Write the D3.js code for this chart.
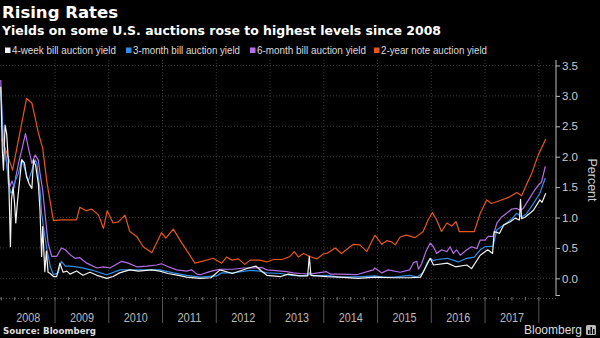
<!DOCTYPE html>
<html><head><meta charset="utf-8">
<script src="https://cdn.jsdelivr.net/npm/d3@7/dist/d3.min.js"></script>
<style>html,body{margin:0;padding:0;background:#000;}svg{display:block;}</style>
</head><body>
<svg id="chart" width="600" height="338"></svg>
<script>
// ---- data (decimal year, percent) ----
const yearLabels = ["2008","2009","2010","2011","2012","2013","2014","2015","2016","2017"];
const yTickValues = [0, 0.5, 1, 1.5, 2, 2.5, 3, 3.5];
const seriesNames = ["4-week bill auction yield","3-month bill auction yield","6-month bill auction yield","2-year note auction yield"];

const week4 = [[2007.99,3.15],[2008.02,2.10],[2008.04,1.78],[2008.07,2.52],[2008.10,2.38],[2008.13,1.95],[2008.17,0.52],[2008.19,1.30],[2008.22,1.50],[2008.25,1.20],[2008.27,0.91],[2008.30,1.25],[2008.34,1.60],[2008.38,1.95],[2008.43,1.90],[2008.47,1.67],[2008.52,1.55],[2008.57,1.48],[2008.60,1.95],[2008.64,1.85],[2008.69,1.55],[2008.72,1.12],[2008.75,0.36],[2008.77,0.85],[2008.81,0.11],[2008.84,0.45],[2008.87,0.10],[2008.91,0.08],[2008.97,0.03],[2009.03,0.03],[2009.09,0.25],[2009.15,0.10],[2009.22,0.12],[2009.28,0.07],[2009.40,0.12],[2009.52,0.05],[2009.65,0.10],[2009.78,0.05],[2009.96,0.00],[2010.08,0.03],[2010.20,0.09],[2010.39,0.14],[2010.55,0.12],[2010.80,0.14],[2010.95,0.12],[2011.10,0.08],[2011.30,0.05],[2011.45,0.02],[2011.70,0.00],[2011.90,0.01],[2012.07,0.14],[2012.30,0.08],[2012.60,0.17],[2012.74,0.20],[2012.84,0.12],[2012.94,0.05],[2013.20,0.03],[2013.34,0.07],[2013.56,0.04],[2013.70,0.04],[2013.73,0.36],[2013.76,0.05],[2014.06,0.03],[2014.30,0.02],[2014.64,0.00],[2014.95,0.02],[2015.30,0.01],[2015.60,0.01],[2015.80,0.02],[2015.90,0.19],[2015.98,0.33],[2016.04,0.22],[2016.30,0.25],[2016.45,0.19],[2016.66,0.22],[2016.75,0.16],[2016.91,0.38],[2017.05,0.47],[2017.14,0.41],[2017.17,0.77],[2017.27,0.74],[2017.35,0.88],[2017.47,0.93],[2017.56,0.99],[2017.64,0.96],[2017.66,1.30],[2017.68,0.98],[2017.75,1.01],[2017.90,1.12],[2018.02,1.29],[2018.06,1.25],[2018.13,1.40]];

const month3 = [[2007.99,3.10],[2008.04,2.27],[2008.10,1.90],[2008.13,1.56],[2008.18,1.40],[2008.22,1.45],[2008.25,1.58],[2008.32,1.73],[2008.38,1.95],[2008.42,1.85],[2008.50,1.60],[2008.53,1.67],[2008.57,1.78],[2008.63,1.95],[2008.66,1.90],[2008.72,1.45],[2008.75,1.07],[2008.80,0.75],[2008.85,0.47],[2008.91,0.20],[2008.97,0.06],[2009.06,0.09],[2009.12,0.28],[2009.19,0.20],[2009.28,0.20],[2009.46,0.18],[2009.71,0.13],[2009.96,0.06],[2010.21,0.14],[2010.46,0.14],[2010.70,0.14],[2010.95,0.14],[2011.20,0.09],[2011.45,0.05],[2011.70,0.02],[2012.00,0.04],[2012.10,0.09],[2012.30,0.09],[2012.63,0.13],[2012.80,0.12],[2012.94,0.09],[2013.20,0.08],[2013.40,0.05],[2013.56,0.04],[2013.70,0.05],[2013.74,0.10],[2013.80,0.04],[2014.06,0.05],[2014.30,0.02],[2014.70,0.03],[2014.95,0.04],[2015.10,0.02],[2015.30,0.02],[2015.60,0.05],[2015.74,0.02],[2015.85,0.10],[2015.92,0.25],[2015.98,0.33],[2016.04,0.29],[2016.10,0.31],[2016.30,0.33],[2016.50,0.27],[2016.66,0.33],[2016.80,0.35],[2016.91,0.47],[2017.00,0.52],[2017.15,0.53],[2017.22,0.80],[2017.40,0.91],[2017.50,0.98],[2017.59,1.07],[2017.68,1.01],[2017.76,1.05],[2017.90,1.23],[2018.02,1.40],[2018.12,1.65]];

const month6 = [[2007.99,3.26],[2008.03,2.30],[2008.07,2.10],[2008.12,1.75],[2008.16,1.51],[2008.20,1.60],[2008.24,1.50],[2008.27,1.67],[2008.32,1.89],[2008.38,2.11],[2008.45,2.38],[2008.50,2.16],[2008.57,1.89],[2008.63,2.03],[2008.69,1.94],[2008.72,1.73],[2008.77,1.45],[2008.81,1.10],[2008.87,0.58],[2008.94,0.36],[2009.03,0.36],[2009.12,0.50],[2009.19,0.47],[2009.28,0.39],[2009.37,0.33],[2009.46,0.34],[2009.59,0.25],[2009.78,0.17],[2009.90,0.19],[2010.02,0.17],[2010.12,0.22],[2010.24,0.28],[2010.36,0.25],[2010.52,0.19],[2010.71,0.20],[2010.89,0.22],[2010.98,0.24],[2011.11,0.19],[2011.26,0.14],[2011.45,0.12],[2011.54,0.14],[2011.64,0.07],[2011.70,0.06],[2011.88,0.11],[2012.01,0.14],[2012.07,0.15],[2012.32,0.15],[2012.50,0.17],[2012.69,0.17],[2012.85,0.18],[2012.94,0.14],[2013.06,0.13],[2013.31,0.11],[2013.43,0.09],[2013.56,0.08],[2013.74,0.07],[2014.05,0.11],[2014.12,0.07],[2014.30,0.07],[2014.61,0.06],[2014.92,0.14],[2014.95,0.17],[2015.08,0.09],[2015.20,0.14],[2015.42,0.10],[2015.60,0.14],[2015.67,0.26],[2015.73,0.28],[2015.76,0.15],[2015.82,0.24],[2015.90,0.44],[2015.98,0.58],[2016.04,0.52],[2016.10,0.41],[2016.19,0.47],[2016.29,0.44],[2016.35,0.52],[2016.41,0.41],[2016.47,0.47],[2016.54,0.38],[2016.66,0.47],[2016.75,0.52],[2016.85,0.49],[2016.91,0.63],[2017.00,0.63],[2017.06,0.69],[2017.15,0.69],[2017.22,0.91],[2017.31,1.01],[2017.40,1.07],[2017.50,1.14],[2017.59,1.15],[2017.65,1.12],[2017.71,1.15],[2017.81,1.29],[2017.90,1.42],[2017.99,1.53],[2018.05,1.58],[2018.12,1.84]];

const year2 = [[2008.01,2.30],[2008.21,1.78],[2008.47,2.96],[2008.57,2.88],[2008.69,2.39],[2008.77,2.14],[2008.85,1.57],[2008.97,0.95],[2009.12,0.96],[2009.40,0.96],[2009.46,1.17],[2009.58,1.11],[2009.68,1.14],[2009.81,1.04],[2009.90,0.82],[2009.97,1.11],[2010.08,0.91],[2010.18,0.93],[2010.30,1.04],[2010.39,0.77],[2010.52,0.69],[2010.64,0.52],[2010.80,0.42],[2010.98,0.75],[2011.06,0.66],[2011.20,0.81],[2011.36,0.58],[2011.48,0.42],[2011.60,0.25],[2011.70,0.27],[2011.94,0.33],[2012.10,0.25],[2012.19,0.35],[2012.29,0.30],[2012.41,0.32],[2012.53,0.23],[2012.63,0.30],[2012.81,0.30],[2012.94,0.27],[2013.06,0.31],[2013.22,0.31],[2013.37,0.36],[2013.45,0.44],[2013.53,0.35],[2013.62,0.41],[2013.74,0.36],[2013.87,0.32],[2013.99,0.40],[2014.08,0.42],[2014.21,0.50],[2014.33,0.41],[2014.46,0.50],[2014.55,0.56],[2014.67,0.55],[2014.80,0.44],[2014.95,0.71],[2015.08,0.56],[2015.17,0.62],[2015.26,0.60],[2015.33,0.55],[2015.42,0.68],[2015.54,0.71],[2015.70,0.67],[2015.85,0.77],[2015.94,0.96],[2016.02,1.08],[2016.10,0.96],[2016.19,0.77],[2016.29,0.91],[2016.38,0.86],[2016.46,0.93],[2016.52,0.77],[2016.66,0.77],[2016.80,0.77],[2016.91,1.07],[2017.03,1.29],[2017.12,1.23],[2017.28,1.28],[2017.46,1.34],[2017.59,1.41],[2017.68,1.36],[2017.74,1.48],[2017.87,1.73],[2017.99,2.03],[2018.13,2.29]];

// ---- drawing ----
const svg = d3.select("#chart");
const FONT = "'Liberation Sans', Arial, sans-serif";
const BOLD = "'DejaVu Sans', sans-serif";
const colors = ["#f2f2f2", "#2f8fe8", "#b56ee8", "#e8561c"];

const x = d3.scaleLinear().domain([2007.976, 2018.32]).range([0, 556]);
const y = d3.scaleLinear().domain([-0.29, 3.59]).range([296, 60]);

// title / subtitle
svg.append("text").attr("x", 2).attr("y", 17.5).attr("fill", "#fff")
  .attr("font-family", BOLD).attr("font-weight", "bold").attr("font-size", 16)
  .attr("textLength", 116).attr("lengthAdjust", "spacingAndGlyphs").text("Rising Rates");
svg.append("text").attr("x", 2).attr("y", 34.5).attr("fill", "#fff")
  .attr("font-family", BOLD).attr("font-weight", "bold").attr("font-size", 12.5)
  .attr("textLength", 439).attr("lengthAdjust", "spacingAndGlyphs")
  .text("Yields on some U.S. auctions rose to highest levels since 2008");

// legend
const legendX = [5, 126, 250, 374];
const legendW = [104, 107, 109, 106];
seriesNames.forEach((n, i) => {
  svg.append("rect").attr("x", legendX[i]).attr("y", 47.5).attr("width", 5.5).attr("height", 5.5).attr("fill", colors[i]);
  svg.append("text").attr("x", legendX[i] + 7).attr("y", 54).attr("fill", "#ddd")
    .attr("font-family", FONT).attr("font-size", 10.5)
    .attr("textLength", legendW[i]).attr("lengthAdjust", "spacingAndGlyphs").text(n);
});

// gridlines
const grid = svg.append("g");
yTickValues.forEach(v => {
  grid.append("line").attr("x1", 0).attr("x2", 556).attr("y1", y(v)).attr("y2", y(v))
    .attr("stroke", "#3a3a3a").attr("stroke-width", 1).attr("stroke-dasharray", "1,2");
});
const yearBounds = d3.range(2009, 2019);
yearBounds.forEach(yr => {
  grid.append("line").attr("x1", x(yr)).attr("x2", x(yr)).attr("y1", 60).attr("y2", 298)
    .attr("stroke", "#3a3a3a").attr("stroke-width", 1).attr("stroke-dasharray", "1,2");
});
grid.append("line").attr("x1", 0).attr("x2", 556).attr("y1", 298.5).attr("y2", 298.5)
  .attr("stroke", "#444").attr("stroke-width", 1).attr("stroke-dasharray", "1,2");

// x axis: quarterly minor ticks, year separators, labels
const quarters = d3.range(2008, 2018.01, 0.25);
quarters.forEach(q => {
  if (x(q) < 556) svg.append("line").attr("x1", x(q)).attr("x2", x(q)).attr("y1", 297).attr("y2", 300.5)
    .attr("stroke", "#777").attr("stroke-width", 1);
});
yearBounds.forEach(yr => {
  svg.append("line").attr("x1", x(yr)).attr("x2", x(yr)).attr("y1", 298).attr("y2", 323)
    .attr("stroke", "#555").attr("stroke-width", 1);
});
yearLabels.forEach(lbl => {
  const yr = +lbl;
  svg.append("text").attr("x", x(yr + 0.5)).attr("y", 322).attr("text-anchor", "middle")
    .attr("fill", "#bbb").attr("font-family", FONT).attr("font-size", 12)
    .attr("textLength", 24).attr("lengthAdjust", "spacingAndGlyphs").text(lbl);
});

// right y axis
const yAxis = d3.axisRight(y).tickValues(yTickValues).tickFormat(d3.format(".1f")).tickSize(4).tickPadding(2);
const ya = svg.append("g").attr("transform", "translate(556,0)").call(yAxis);
ya.select(".domain").attr("stroke", "#bbb").attr("d", "M0,60V296");
ya.selectAll(".tick line").attr("stroke", "#bbb");
ya.selectAll(".tick text").attr("fill", "#ccc").attr("font-family", FONT).attr("font-size", 11.5);
svg.append("line").attr("x1", 556).attr("x2", 560).attr("y1", 295.5).attr("y2", 295.5).attr("stroke", "#bbb");

svg.append("text").attr("transform", "translate(587.5,180) rotate(90)").attr("text-anchor", "middle")
  .attr("fill", "#ccc").attr("font-family", FONT).attr("font-size", 12.5).text("Percent");

// series lines
const line = d3.line().x(d => x(d[0])).y(d => y(d[1]));
const order = [[year2, 3], [month6, 2], [month3, 1], [week4, 0]];
const plot = svg.append("g");
order.forEach(([data, i]) => {
  plot.append("path").datum(data).attr("d", line).attr("fill", "none")
    .attr("stroke", colors[i]).attr("stroke-width", 1.2).attr("stroke-linejoin", "round");
});

// footer
svg.append("text").attr("x", 3).attr("y", 334).attr("fill", "#ddd")
  .attr("font-family", BOLD).attr("font-weight", "bold").attr("font-size", 9.5)
  .attr("textLength", 93).attr("lengthAdjust", "spacingAndGlyphs").text("Source: Bloomberg");
svg.append("text").attr("x", 524).attr("y", 334).attr("fill", "#ddd")
  .attr("font-family", FONT).attr("font-size", 12)
  .attr("textLength", 58).attr("lengthAdjust", "spacingAndGlyphs").text("Bloomberg");
const logo = svg.append("g").attr("transform", "translate(586,325)");
logo.append("rect").attr("width", 10).attr("height", 10).attr("rx", 1.5).attr("fill", "#bbb");
logo.append("rect").attr("x", 2).attr("y", 5).attr("width", 1.5).attr("height", 4).attr("fill", "#000");
logo.append("rect").attr("x", 4.5).attr("y", 2).attr("width", 1.5).attr("height", 7).attr("fill", "#000");
logo.append("rect").attr("x", 7).attr("y", 4).attr("width", 1.5).attr("height", 5).attr("fill", "#000");
</script>
</body></html>
